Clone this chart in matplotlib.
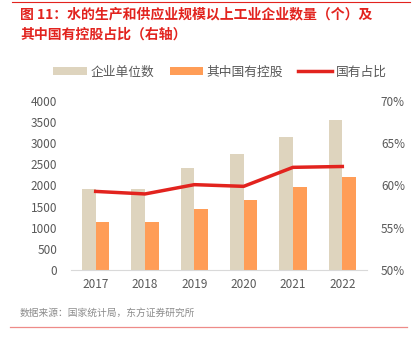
import matplotlib
matplotlib.use("Agg")
import matplotlib.pyplot as plt
import numpy as np

plt.rcParams['font.family'] = ['Noto Sans CJK SC', 'DejaVu Sans']

years = ['2017', '2018', '2019', '2020', '2021', '2022']
total = [1910, 1925, 2414, 2746, 3156, 3550]
state = [1129, 1136, 1451, 1650, 1964, 2209]
share = [59.3, 59.0, 60.1, 59.9, 62.15, 62.25]

beige = '#DED4BE'
orange = '#FF9D57'
red = '#E2231E'
gray = '#595959'

fig = plt.figure(figsize=(4.14, 3.46), dpi=100)
ax = fig.add_axes([71/414, 1-270/346, 296/414, 169/346])
ax2 = ax.twinx()

x = np.arange(len(years))
w = 0.28
b1 = ax.bar(x - w/2, total, w, color=beige, label='企业单位数')
b2 = ax.bar(x + w/2, state, w, color=orange, label='其中国有控股')
l1, = ax2.plot(x, share, color=red, lw=2.5, label='国有占比')

ax.set_ylim(0, 4000)
ax.set_yticks(range(0, 4001, 500))
ax.set_xlim(-0.5, 5.5)
ax.set_xticks(x)
ax.set_xticklabels(years)
ax2.set_ylim(50, 70)
ax2.set_yticks(range(50, 71, 5))
ax2.set_yticklabels([f'{v}%' for v in range(50, 71, 5)])

for a in (ax, ax2):
    for s in ('top', 'right', 'left'):
        a.spines[s].set_visible(False)
    a.spines['bottom'].set_visible(a is ax)
    a.tick_params(length=0, labelsize=8.5, colors=gray)
ax.spines['bottom'].set_color('#D9D9D9')
ax.tick_params(axis='x', pad=6)
ax.tick_params(axis='y', pad=10)
ax2.tick_params(axis='y', pad=10)

fig.legend(handles=[b1, b2, l1], loc='center', bbox_to_anchor=(220/414, 1-72/346),
           ncol=3, frameon=False, fontsize=9.2, handlelength=2.6, handleheight=0.6,
           columnspacing=1.2, handletextpad=0.3, labelcolor=gray)

fig.text(20/414, 1-14/346, '图 11：水的生产和供应业规模以上工业企业数量（个）及',
         color=red, fontsize=10, fontweight='bold', va='center')
fig.text(20/414, 1-35/346, '其中国有控股占比（右轴）',
         color=red, fontsize=10, fontweight='bold', va='center')
fig.text(20/414, 1-313/346, '数据来源：国家统计局，东方证券研究所',
         color='#8C8C8C', fontsize=7, va='center')

fig.add_artist(plt.Line2D([12/414, 410/414], [1-1.5/346, 1-1.5/346], color=red, lw=0.8))
fig.add_artist(plt.Line2D([10/414, 407/414], [1-327/346, 1-327/346], color='#EE8B88', lw=0.9))

fig.savefig('out.png', dpi=100)
